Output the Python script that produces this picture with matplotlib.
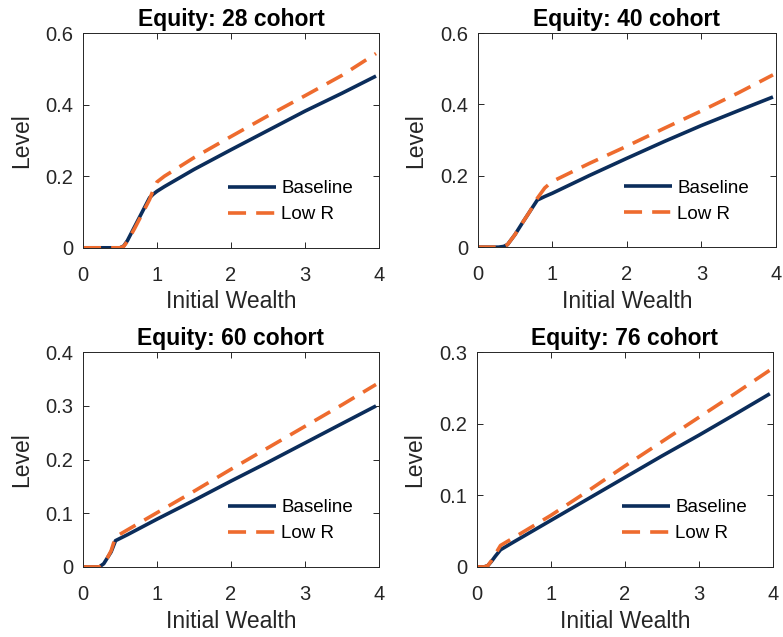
import matplotlib
matplotlib.use("Agg")
import matplotlib.pyplot as plt
from matplotlib.ticker import FormatStrFormatter

plt.rcParams['font.family'] = ['Liberation Sans', 'DejaVu Sans']

# equity policy by cohort, as a function of initial wealth
x28 = [0, 0.5, 0.55, 0.6, 0.7, 0.8, 0.9, 0.95, 1.0, 1.1, 1.5, 2.0, 2.5, 3.0, 3.5, 3.96]
base28 = [0, 0, 0.005, 0.02, 0.06, 0.1, 0.14, 0.15, 0.158, 0.171, 0.219, 0.274, 0.328, 0.382, 0.432, 0.48]
lowr28 = [0, 0, 0.004, 0.018, 0.055, 0.095, 0.135, 0.162, 0.184, 0.2, 0.252, 0.311, 0.369, 0.425, 0.482, 0.543]

x40 = [0, 0.28, 0.35, 0.4, 0.5, 0.6, 0.7, 0.8, 0.9, 1.0, 1.5, 2.0, 2.5, 3.0, 3.5, 3.96]
base40 = [0, 0, 0.002, 0.007, 0.035, 0.068, 0.1, 0.132, 0.142, 0.151, 0.201, 0.249, 0.296, 0.341, 0.383, 0.421]
lowr40 = [0, 0, 0.002, 0.007, 0.035, 0.068, 0.1, 0.137, 0.166, 0.184, 0.235, 0.283, 0.333, 0.382, 0.433, 0.483]

x60 = [0, 0.22, 0.28, 0.33, 0.38, 0.44, 0.6, 1.0, 1.5, 2.0, 2.5, 3.0, 3.5, 3.96]
base60 = [0, 0, 0.006, 0.017, 0.028, 0.049, 0.06, 0.089, 0.124, 0.16, 0.195, 0.231, 0.267, 0.3]
lowr60 = [0, 0, 0.006, 0.017, 0.03, 0.056, 0.069, 0.101, 0.141, 0.182, 0.222, 0.262, 0.302, 0.34]

x76 = [0, 0.1, 0.15, 0.2, 0.25, 0.32, 0.5, 1.0, 1.5, 2.0, 2.5, 3.0, 3.5, 3.96]
base76 = [0, 0, 0.002, 0.008, 0.015, 0.024, 0.035, 0.065, 0.095, 0.125, 0.155, 0.184, 0.214, 0.242]
lowr76 = [0, 0, 0.002, 0.009, 0.018, 0.03, 0.041, 0.072, 0.106, 0.141, 0.175, 0.209, 0.243, 0.275]

cohorts = [28, 40, 60, 76]
ymax = [0.6, 0.6, 0.4, 0.3]
ystep = [0.2, 0.2, 0.1, 0.1]

NAVY = '#0b2d5b'
ORANGE = '#ee6b2e'
GREY = '#262626'

fig = plt.figure(figsize=(7.83, 6.37), dpi=100)

# [left, bottom, width, height] for each panel
boxes = [
    [0.106, 0.611, 0.378, 0.337],
    [0.610, 0.612, 0.381, 0.336],
    [0.106, 0.110, 0.378, 0.337],
    [0.609, 0.110, 0.378, 0.337],
]

panels = [(x28, base28, lowr28), (x40, base40, lowr40),
          (x60, base60, lowr60), (x76, base76, lowr76)]

for i, (xs, base, lowr) in enumerate(panels):
    ax = fig.add_axes(boxes[i])
    ax.plot(xs, base, color=NAVY, lw=2.6, label='Baseline', solid_capstyle='butt')
    ax.plot(xs, lowr, color=ORANGE, lw=2.6, label='Low R', dashes=(5, 2.8))

    ax.set_xlim(0, 4)
    ax.set_ylim(0, ymax[i])
    ax.set_xticks([0, 1, 2, 3, 4])
    n = int(round(ymax[i] / ystep[i]))
    ax.set_yticks([ystep[i] * k for k in range(n + 1)])
    ax.yaxis.set_major_formatter(FormatStrFormatter('%g'))
    ax.xaxis.set_major_formatter(FormatStrFormatter('%g'))

    for s in ax.spines.values():
        s.set_color(GREY)
        s.set_linewidth(0.7)
    ax.tick_params(direction='in', top=True, right=True, length=4, width=0.7,
                   color=GREY, labelcolor=GREY, labelsize=14.5)
    ax.tick_params(axis='x', pad=13)
    ax.tick_params(axis='y', pad=7)

    ax.set_title('Equity: %d cohort' % cohorts[i], fontsize=16.5,
                 fontweight='bold', pad=5)
    ax.set_xlabel('Initial Wealth', fontsize=16.5, color=GREY, labelpad=4)
    ax.set_ylabel('Level', fontsize=16.5, color=GREY, labelpad=9)

    ax.legend(loc='lower left', bbox_to_anchor=(0.49, 0.115), frameon=False,
              fontsize=13.5, borderpad=0, borderaxespad=0, handlelength=2.55,
              handletextpad=0.3, labelspacing=0.46)

fig.savefig('out.png', dpi=100)
